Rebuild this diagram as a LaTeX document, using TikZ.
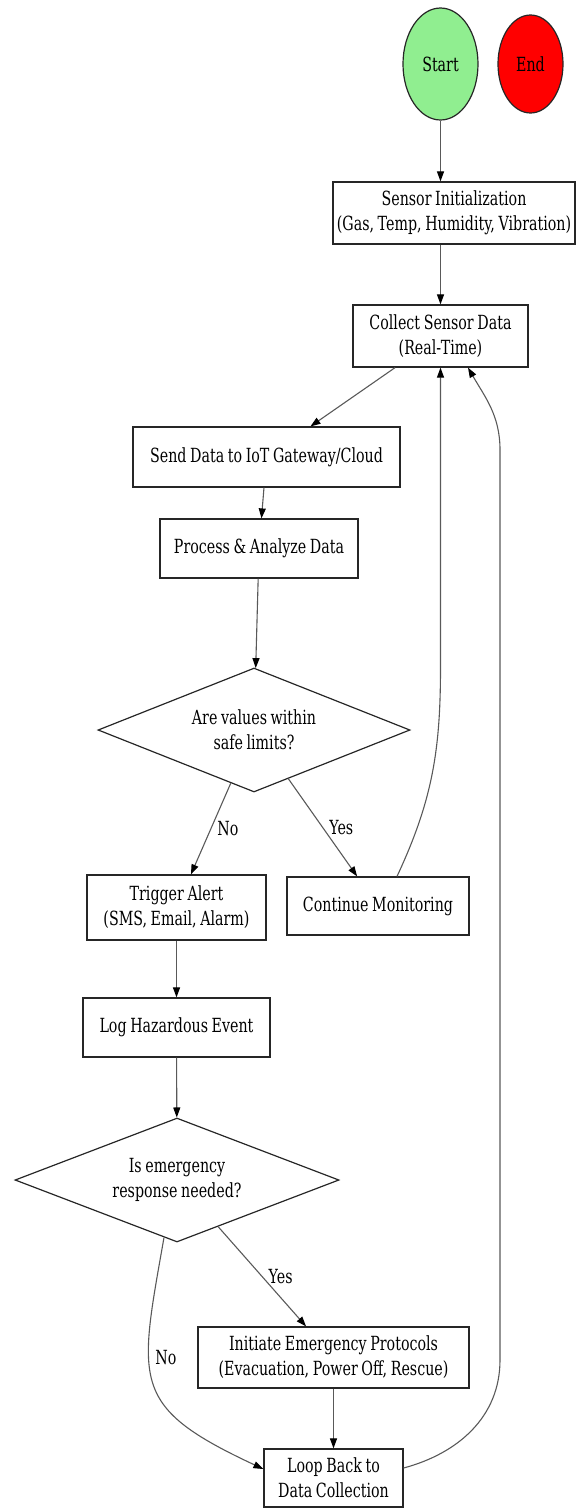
\documentclass[tikz,border=0pt]{standalone}
\usepackage{fontspec}
\IfFontExistsTF{DejaVu Serif}{\setmainfont{DejaVu Serif}[FakeStretch=0.73, WordSpace=0.8]}{\setmainfont{Liberation Serif}}
\usepackage{tikz}
\usetikzlibrary{shapes.geometric,arrows.meta,calc}
\definecolor{startgreen}{HTML}{90EE90}
\definecolor{endred}{HTML}{FF0000}

\begin{document}
\begin{tikzpicture}[x=1pt, y=1pt,
		every node/.style={font=\fontsize{19.5}{25}\selectfont},
		box/.style={rectangle, draw=black!85, line width=1.2pt, align=center, inner sep=0pt},
		choice/.style={diamond, aspect=2.5, draw=black!85, line width=1.2pt, align=center, inner sep=0pt},
		term/.style={ellipse, draw=black!85, line width=1.2pt, inner sep=0pt},
		flow/.style={draw=black!65, line width=1.1pt, -{Triangle[length=10pt,width=7pt,color=black]}},
		lbl/.style={right, inner sep=6pt}]
			\useasboundingbox (0,0) rectangle (577,-1508);
			% Nodes
			\node[term, fill=startgreen, minimum width=75pt, minimum height=112pt] (start) at (440.5,-64) {Start};
			\node[term, fill=endred, minimum width=65pt, minimum height=98pt] (end) at (530.5,-64) {End};
			\node[box, minimum width=242pt, minimum height=62pt] (sensor) at (454,-213) {Sensor Initialization\\(Gas, Temp, Humidity, Vibration)};
			\node[box, minimum width=175pt, minimum height=62pt] (collect) at (440.5,-336) {Collect Sensor Data\\(Real-Time)};
			\node[box, minimum width=267pt, minimum height=60pt] (send) at (266.5,-457) {Send Data to IoT Gateway/Cloud};
			\node[box, minimum width=198pt, minimum height=59pt] (process) at (259,-548.5) {Process \& Analyze Data};
			\node[choice, minimum width=312pt, minimum height=124pt] (limits) at (254,-730) {Are values within\\safe limits?};
			\node[box, minimum width=179pt, minimum height=65pt] (alert) at (176.5,-907.5) {Trigger Alert\\(SMS, Email, Alarm)};
			\node[box, minimum width=182pt, minimum height=58pt] (monitor) at (378,-906) {Continue Monitoring};
			\node[box, minimum width=187pt, minimum height=59pt] (logev) at (176.5,-1027.5) {Log Hazardous Event};
			\node[choice, minimum width=324pt, minimum height=124pt] (emerg) at (177,-1180) {Is emergency\\response needed?};
			\node[box, minimum width=271pt, minimum height=61pt] (protocol) at (333.5,-1357.5) {Initiate Emergency Protocols\\(Evacuation, Power Off, Rescue)};
			\node[box, minimum width=139pt, minimum height=58pt] (loopback) at (333.5,-1478) {Loop Back to\\Data Collection};
			% Edges
			\draw[flow] (start) -- (start |- sensor.north);
			\draw[flow] (collect |- sensor.south) -- (collect);
			\draw[flow] (collect) -- (send);
			\draw[flow] (send) -- (process);
			\draw[flow] (process) -- (limits);
			\draw[flow] (limits) -- node[lbl] {No} (alert);
			\draw[flow] (limits) -- node[lbl] {Yes} (monitor);
			\draw[flow] ([xshift=19pt]monitor.north) to[out=65, in=-90] (collect.south |- limits.north) -- (collect);
			\draw[flow] (alert) -- (logev);
			\draw[flow] (logev) -- (emerg);
			\draw[flow] (emerg) -- node[lbl] {Yes} (protocol);
			\draw[flow] ($(emerg.south)!0.08!(emerg.west)$) to[out=-100, in=155, looseness=1.5] node[lbl, pos=0.37] {No} ([yshift=9pt]loopback.west);
			\draw[flow] (protocol) -- (loopback);
			\draw[flow] ([yshift=10pt]loopback.east) to[out=15, in=-90] (500,-1360) -- (500,-450) to[out=90, in=-60] ([xshift=27.5pt]collect.south);
		\end{tikzpicture}
\end{document}
